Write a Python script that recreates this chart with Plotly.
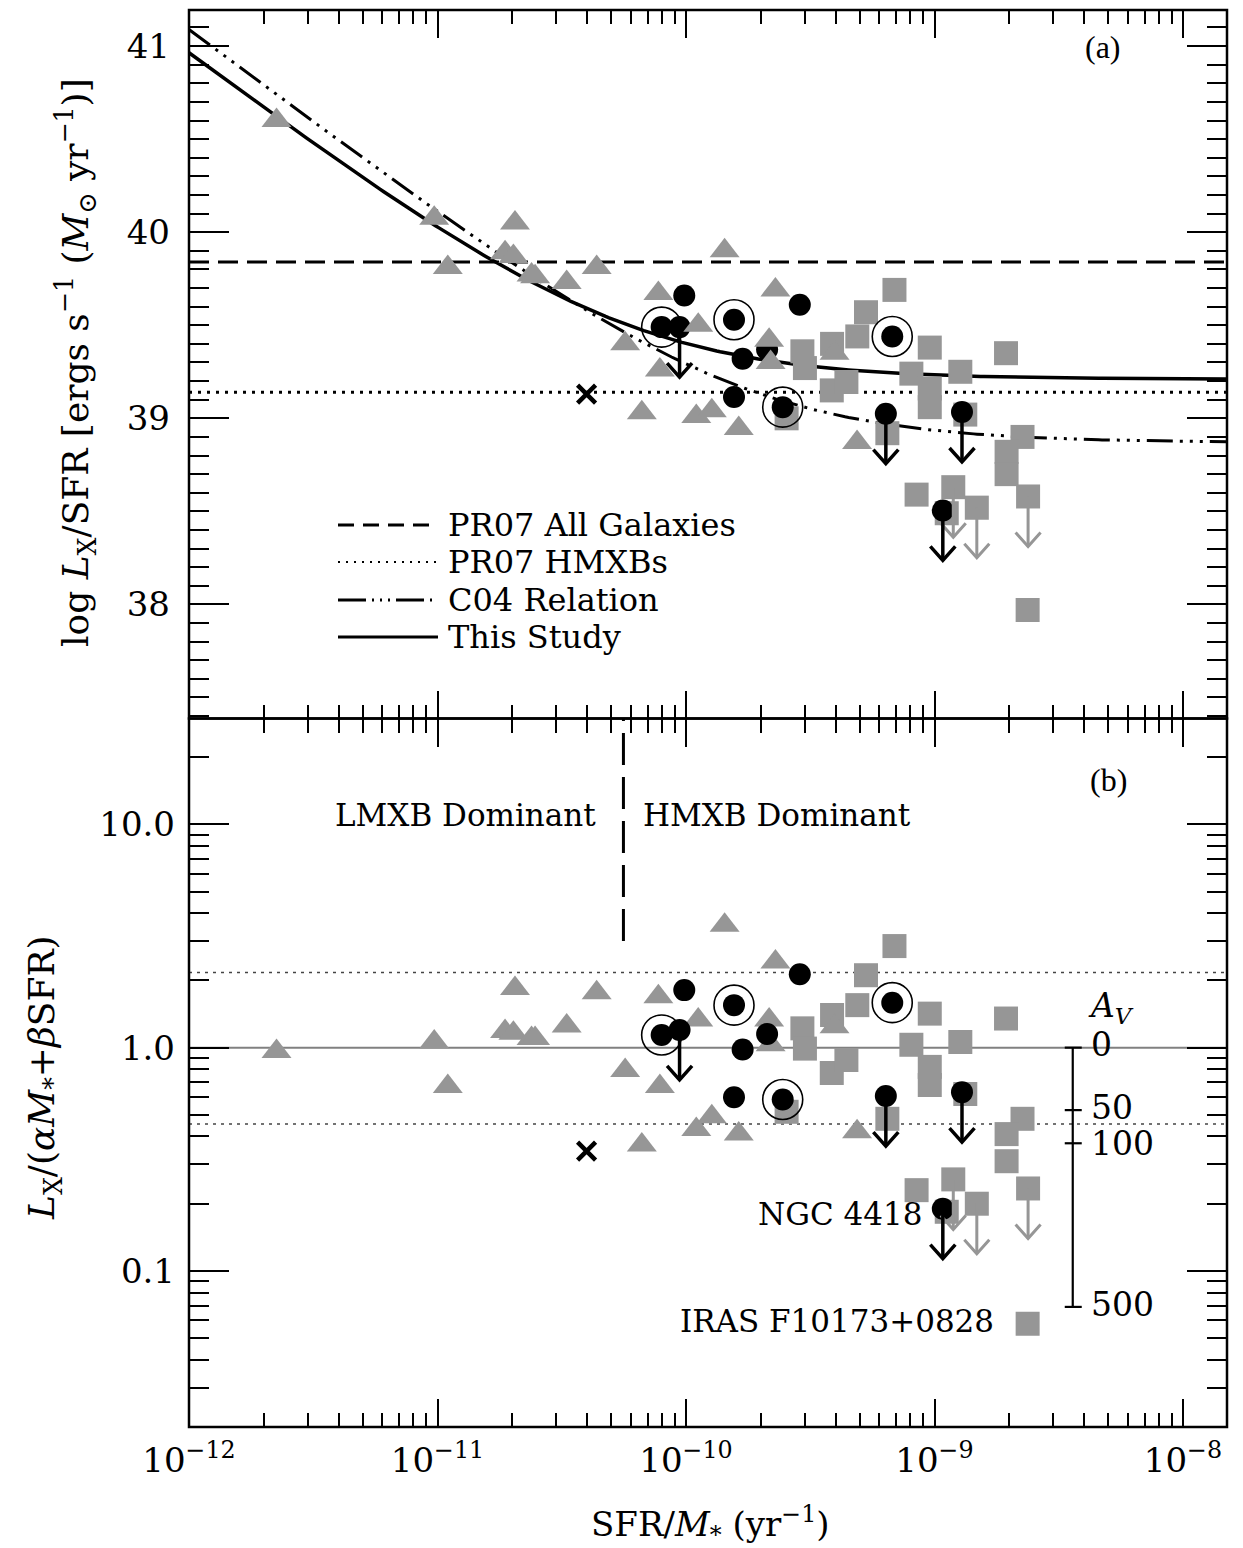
import numpy as np
import plotly.graph_objects as go

FONT = "DejaVu Serif"
GRAY = "#969696"

# ---------------- figure geometry ----------------
W, H = 1243, 1548
ML, MR, MT, MB = 189, 16, 10, 121
PLOT_W = W - ML - MR
PLOT_H = H - MT - MB
AXIS_LW = 2.5

LOGX_MIN, LOGX_MAX = -12.0, -7.823          # log10 SFR/M*
TOP_RANGE = [37.387, 41.194]                 # log Lx/SFR
BOT_RANGE = [np.log10(0.02), 1.474]          # log10 of Lx/(aM+bSFR)

# pixel scales used for arrow glyph sizes
PX_PER_DEX_X = PLOT_W / (LOGX_MAX - LOGX_MIN)
PX_PER_UNIT_TOP = (PLOT_H / 2) / (TOP_RANGE[1] - TOP_RANGE[0])
PX_PER_DEX_BOT = (PLOT_H / 2) / (BOT_RANGE[1] - BOT_RANGE[0])

# ---------------- data ----------------
# normal star-forming galaxies (grey triangles)
tri_ssfr = [2.25e-12, 9.7e-12, 1.10e-11, 2.05e-11, 1.87e-11, 2.02e-11, 2.39e-11, 2.47e-11,
            3.31e-11, 4.37e-11, 5.69e-11, 7.74e-11, 7.85e-11, 6.64e-11, 1.43e-10, 1.12e-10,
            2.29e-10, 2.16e-10, 2.19e-10, 1.10e-10, 1.27e-10, 1.63e-10, 3.96e-10, 4.88e-10]
tri_log_lx_sfr = [40.60, 40.075, 39.81, 40.05, 39.89, 39.87, 39.77, 39.76,
                  39.73, 39.81, 39.40, 39.67, 39.26, 39.03, 39.90, 39.50,
                  39.69, 39.42, 39.30, 39.01, 39.04, 38.945, 39.35, 38.87]
tri_ratio = [0.96, 1.06, 0.67, 1.84, 1.18, 1.16, 1.10, 1.10,
             1.25, 1.76, 0.79, 1.69, 0.67, 0.366, 3.53, 1.33,
             2.42, 1.33, 1.03, 0.43, 0.49, 0.41, 1.24, 0.42]

# LIRGs (black circles)
lirg_ssfr = [9.84e-11, 7.98e-11, 9.42e-11, 1.56e-10, 2.87e-10, 1.69e-10, 2.12e-10,
             1.56e-10, 2.45e-10, 6.76e-10, 6.37e-10, 1.29e-9, 1.08e-9]
lirg_log_lx_sfr = [39.66, 39.49, 39.49, 39.53, 39.61, 39.32, 39.37,
                   39.115, 39.06, 39.44, 39.025, 39.034, 38.505]
lirg_ratio = [1.81, 1.14, 1.20, 1.55, 2.13, 0.98, 1.15,
              0.60, 0.586, 1.59, 0.607, 0.632, 0.19]
lirg_upper = [False, False, True, False, False, False, False,
              False, False, False, True, True, True]
lirg_ring = [False, True, False, True, False, False, False,
             False, True, True, False, False, False]

# ULIRGs / high-sSFR systems (grey squares)
sq_ssfr = [6.90e-10, 5.30e-10, 4.89e-10, 3.87e-10, 2.94e-10, 3.01e-10, 3.86e-10, 4.42e-10,
           9.57e-10, 8.07e-10, 9.57e-10, 9.57e-10, 1.27e-9, 1.94e-9, 2.54e-10, 6.46e-10,
           1.33e-9, 2.26e-9, 1.95e-9, 1.95e-9, 8.47e-10, 1.19e-9, 1.48e-9, 2.38e-9,
           2.37e-9, 1.12e-9]
sq_log_lx_sfr = [39.69, 39.57, 39.44, 39.40, 39.36, 39.27, 39.15, 39.195,
                 39.38, 39.24, 39.16, 39.06, 39.25, 39.35, 39.00, 38.92,
                 39.02, 38.90, 38.82, 38.70, 38.59, 38.63, 38.52, 38.58,
                 37.97, 38.49]
sq_ratio = [2.85, 2.11, 1.55, 1.40, 1.22, 0.99, 0.77, 0.88,
            1.42, 1.03, 0.82, 0.68, 1.06, 1.35, 0.516, 0.48,
            0.62, 0.48, 0.41, 0.31, 0.23, 0.257, 0.20, 0.234,
            0.058, 0.184]
sq_upper = [False] * 21 + [True, True, True, False, False]

# single object marked with a cross
cross_ssfr = [3.98e-11]
cross_log_lx_sfr = [39.13]
cross_ratio = [0.344]

# reference relations
PR07_ALL = 39.84
PR07_HMXB = 39.14
C04_ALPHA, C04_BETA = 1.22e29, 7.4e38          # erg/s per Msun, erg/s per (Msun/yr)
THIS_ALPHA, THIS_BETA = 9.05e28, 1.62e39

RATIO_UNITY = 1.0
RATIO_SCATTER = [2.17, 0.455]
DIVIDE_SSFR = 5.6e-11
DIVIDE_RATIO_BOTTOM = 3.0

# extinction scale (A_V -> suppression factor)
AV_LABELS = ["0", "50", "100", "500"]
AV_FACTOR = [1.0, 0.525, 0.373, 0.069]
AV_SCALE_SSFR = 3.6e-9

X_TICKS = [1e-12, 1e-11, 1e-10, 1e-9, 1e-8]
X_TICKTEXT = ["10<sup>−12</sup>", "10<sup>−11</sup>", "10<sup>−10</sup>",
              "10<sup>−9</sup>", "10<sup>−8</sup>"]


def px_x(px):
    return (px - ML) / PLOT_W


def px_y(py):
    return (H - MB - py) / PLOT_H


fig = go.Figure()
TOP = dict(xaxis="x2", yaxis="y2")
BOT = dict(xaxis="x", yaxis="y")

x_edges = [10 ** LOGX_MIN, 10 ** LOGX_MAX]

# ---------- top panel: reference relations ----------
fig.add_trace(go.Scatter(x=x_edges, y=[PR07_ALL, PR07_ALL], mode="lines",
                         line=dict(color="black", width=3, dash="20px,9px"), **TOP))
fig.add_trace(go.Scatter(x=x_edges, y=[PR07_HMXB, PR07_HMXB], mode="lines",
                         line=dict(color="black", width=3, dash="3px,6px"), **TOP))
ssfr_grid = np.logspace(LOGX_MIN, LOGX_MAX, 300)
fig.add_trace(go.Scatter(x=ssfr_grid, y=np.log10(C04_BETA + C04_ALPHA / ssfr_grid), mode="lines",
                         line=dict(color="black", width=3,
                                   dash="26px,7px,3px,7px,3px,7px,3px,7px"), **TOP))
fig.add_trace(go.Scatter(x=ssfr_grid, y=np.log10(THIS_BETA + THIS_ALPHA / ssfr_grid), mode="lines",
                         line=dict(color="black", width=3.5), **TOP))

# ---------- bottom panel: reference lines ----------
fig.add_trace(go.Scatter(x=x_edges, y=[RATIO_UNITY, RATIO_UNITY], mode="lines",
                         line=dict(color="#808080", width=2), **BOT))
for r in RATIO_SCATTER:
    fig.add_trace(go.Scatter(x=x_edges, y=[r, r], mode="lines",
                             line=dict(color="#444444", width=1.5, dash="3px,5px"), **BOT))
fig.add_trace(go.Scatter(x=[DIVIDE_SSFR, DIVIDE_SSFR], y=[DIVIDE_RATIO_BOTTOM, 10 ** BOT_RANGE[1]],
                         mode="lines", line=dict(color="black", width=3, dash="32px,12px"), **BOT))


def arrow_paths(xs, ys, flags, log_y, ypx_scale):
    """Stem + open V head pointing down, 50 px long, for each flagged point."""
    length = 50.0 / ypx_scale
    head_h = 14.0 / ypx_scale
    head_w = 12.5 / PX_PER_DEX_X
    conv = (lambda v: 10 ** v) if log_y else (lambda v: v)
    ax, ay = [], []
    for x, y, f in zip(xs, ys, flags):
        if not f:
            continue
        yy = np.log10(y) if log_y else y
        tip = yy - length
        up = tip + head_h
        ax += [x, x, None, x * 10 ** (-head_w), x, x * 10 ** head_w, None]
        ay += [conv(yy), conv(tip), None, conv(up), conv(tip), conv(up), None]
    return ax, ay


def add_panel(kw, tri_y, lirg_y, sq_y, cross_y, log_y, ypx_scale, tri_on_top):
    fig.add_trace(go.Scatter(x=sq_ssfr, y=sq_y, mode="markers",
                             marker=dict(symbol="square", size=24, color=GRAY, line=dict(width=0)), **kw))
    tri = go.Scatter(x=tri_ssfr, y=tri_y, mode="markers",
                     marker=dict(symbol="triangle-up", size=26, color=GRAY, line=dict(width=0)), **kw)
    circ = go.Scatter(x=lirg_ssfr, y=lirg_y, mode="markers",
                      marker=dict(symbol="circle", size=22, color="black", line=dict(width=0)), **kw)
    ring_x = [x for x, r in zip(lirg_ssfr, lirg_ring) if r]
    ring_y = [y for y, r in zip(lirg_y, lirg_ring) if r]
    ring = go.Scatter(x=ring_x, y=ring_y, mode="markers",
                      marker=dict(symbol="circle-open", size=40, color="black", line=dict(width=1.6)), **kw)
    order = [circ, ring, tri] if tri_on_top else [tri, circ, ring]
    for t in order:
        fig.add_trace(t)
    gx, gy = arrow_paths(sq_ssfr, sq_y, sq_upper, log_y, ypx_scale)
    fig.add_trace(go.Scatter(x=gx, y=gy, mode="lines", line=dict(color=GRAY, width=3), **kw))
    bx, by = arrow_paths(lirg_ssfr, lirg_y, lirg_upper, log_y, ypx_scale)
    fig.add_trace(go.Scatter(x=bx, y=by, mode="lines", line=dict(color="black", width=3.5), **kw))
    fig.add_trace(go.Scatter(x=cross_ssfr, y=cross_y, mode="markers",
                             marker=dict(symbol="x-thin", size=18, color="black",
                                         line=dict(width=4.5, color="black")), **kw))


add_panel(TOP, tri_log_lx_sfr, lirg_log_lx_sfr, sq_log_lx_sfr, cross_log_lx_sfr,
          False, PX_PER_UNIT_TOP, True)
add_panel(BOT, tri_ratio, lirg_ratio, sq_ratio, cross_ratio,
          True, PX_PER_DEX_BOT, False)

# ---------- extinction scale in panel (b) ----------
tick_half_lo = 8 / PX_PER_DEX_X
tick_half_hi = 9 / PX_PER_DEX_X
sx, sy = [AV_SCALE_SSFR, AV_SCALE_SSFR, None], [AV_FACTOR[0], AV_FACTOR[-1], None]
for f in AV_FACTOR:
    sx += [AV_SCALE_SSFR * 10 ** (-tick_half_lo), AV_SCALE_SSFR * 10 ** tick_half_hi, None]
    sy += [f, f, None]
fig.add_trace(go.Scatter(x=sx, y=sy, mode="lines", line=dict(color="black", width=2.2), **BOT))

annotations = []
AV_SHIFT = [3, 3, 0, 2]
for lab, f, sh in zip(AV_LABELS, AV_FACTOR, AV_SHIFT):
    annotations.append(dict(text=lab, xref="paper", yref="y", x=px_x(1089), y=np.log10(f),
                            xanchor="left", yanchor="middle", yshift=sh, showarrow=False,
                            font=dict(family=FONT, size=33, color="black")))
annotations.append(dict(text="<i>A</i><sub><i>V</i></sub>", xref="paper", yref="paper",
                        x=px_x(1086), y=px_y(1008), xanchor="left", yanchor="middle",
                        showarrow=False, font=dict(family=FONT, size=33, color="black")))

# ---------- panel frames (one shared line between the panels) ----------
shapes = []
for yref in ["y domain", "y2 domain"]:
    xref = "x domain" if yref == "y domain" else "x2 domain"
    shapes.append(dict(type="rect", xref=xref, yref=yref, x0=0, x1=1, y0=0, y1=1,
                       line=dict(color="black", width=AXIS_LW), fillcolor="rgba(0,0,0,0)",
                       layer="above"))

# ---------- legend of panel (a) ----------
LEG_ROWS = [525, 562, 600, 637]
LEG_TEXT = ["PR07 All Galaxies", "PR07 HMXBs", "C04 Relation", "This Study"]
LEG_DASH = ["16px,9px", "2px,6px", "28px,6px,2px,6px,2px,6px,2px,6px", "solid"]
LEG_W = [3, 2, 3, 3]
for yr, txt, dsh, lw in zip(LEG_ROWS, LEG_TEXT, LEG_DASH, LEG_W):
    shapes.append(dict(type="line", xref="paper", yref="paper",
                       x0=px_x(338), x1=px_x(438), y0=px_y(yr), y1=px_y(yr),
                       line=dict(color="black", width=lw, dash=dsh)))
    annotations.append(dict(text=txt, xref="paper", yref="paper", x=px_x(446), y=px_y(yr),
                            xanchor="left", yanchor="middle", showarrow=False,
                            font=dict(family=FONT, size=32, color="black")))


# ---------- panel labels & notes ----------
def note(text, xpx, ypx, anchor="center", size=31, family=FONT):
    annotations.append(dict(text=text, xref="paper", yref="paper", x=px_x(xpx), y=px_y(ypx),
                            xanchor=anchor, yanchor="middle", showarrow=False,
                            font=dict(family=family, size=size, color="black")))


note("(a)", 1103, 47, size=32, family="Liberation Serif")
note("(b)", 1108, 780, size=32, family="Liberation Serif")
note("LMXB Dominant", 598, 815, anchor="right")
note("HMXB Dominant", 641, 815, anchor="left")
note("NGC 4418", 924, 1214, anchor="right")
note("IRAS F10173+0828", 996, 1321, anchor="right")

# axis titles
annotations.append(dict(text="log <i>L</i><sub>X</sub>/SFR [ergs s<sup>−1</sup> (<i>M</i><sub>⊙</sub> yr<sup>−1</sup>)]",
                        xref="paper", yref="paper", x=px_x(76), y=px_y(363), textangle=-90,
                        xanchor="center", yanchor="middle", showarrow=False,
                        font=dict(family=FONT, size=36, color="black")))
annotations.append(dict(text="<i>L</i><sub>X</sub>/(<i>αM</i><sub>*</sub>+<i>β</i>SFR)",
                        xref="paper", yref="paper", x=px_x(44), y=px_y(1078), textangle=-90,
                        xanchor="center", yanchor="middle", showarrow=False,
                        font=dict(family=FONT, size=36, color="black")))
annotations.append(dict(text="SFR/<i>M</i><sub>*</sub> (yr<sup>−1</sup>)",
                        xref="paper", yref="paper", x=px_x(710), y=px_y(1525),
                        xanchor="center", yanchor="middle", showarrow=False,
                        font=dict(family=FONT, size=34, color="black")))

# ---------- axes ----------
x_minor = [k * 10.0 ** e for e in range(-12, -7) for k in range(2, 10)]
y_minor = [k * 10.0 ** e for e in range(-2, 2) for k in range(2, 10)]

common = dict(showline=False, mirror="allticks",
              ticks="inside", tickcolor="black", showgrid=False, zeroline=False,
              tickfont=dict(family=FONT, size=34, color="black"))

xaxis_b = dict(common, type="log", range=[LOGX_MIN, LOGX_MAX], anchor="y", domain=[0, 1],
               ticklen=28, tickwidth=2, tickmode="array", tickvals=X_TICKS, ticktext=X_TICKTEXT,
               ticklabelstandoff=10,
               minor=dict(ticks="inside", ticklen=14, tickwidth=1.6, tickcolor="black",
                          tickmode="array", tickvals=x_minor, showgrid=False))
xaxis_t = dict(xaxis_b, anchor="y2", matches="x", showticklabels=False)
yaxis_b = dict(common, type="log", range=BOT_RANGE, domain=[0, 0.5], anchor="x",
               ticklen=40, tickwidth=2, tickmode="array", tickvals=[0.1, 1, 10],
               ticktext=["0.1", "1.0", "10.0"], ticklabelstandoff=13,
               minor=dict(ticks="inside", ticklen=20, tickwidth=1.6, tickcolor="black",
                          tickmode="array", tickvals=y_minor, showgrid=False))
yaxis_t = dict(common, range=TOP_RANGE, domain=[0.5, 1], anchor="x2",
               ticklen=40, tickwidth=2, tick0=38, dtick=1, ticklabelstandoff=18,
               minor=dict(ticks="inside", ticklen=20, tickwidth=1.6, tickcolor="black",
                          tick0=38, dtick=0.1, showgrid=False))

fig.update_layout(
    width=W, height=H, autosize=False,
    margin=dict(l=ML, r=MR, t=MT, b=MB, pad=0),
    paper_bgcolor="white", plot_bgcolor="white",
    showlegend=False,
    xaxis=xaxis_b, xaxis2=xaxis_t, yaxis=yaxis_b, yaxis2=yaxis_t,
    annotations=annotations, shapes=shapes,
)

fig.write_html("out.html")
